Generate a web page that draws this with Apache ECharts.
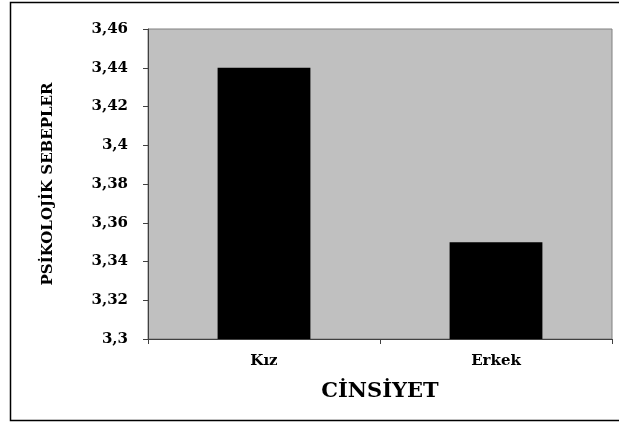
<!DOCTYPE html>
<html>
<head>
<meta charset="utf-8">
<script src="https://cdn.jsdelivr.net/npm/echarts@6/dist/echarts.min.js"></script>
<style>html,body{margin:0;padding:0;background:#fff;}#c{width:619px;height:423px;}</style>
</head>
<body>
<div id="c"></div>
<script>
var categories = ['Kız', 'Erkek'];
var values = [3.44, 3.35];
var yTickLabels = ['3,3', '3,32', '3,34', '3,36', '3,38', '3,4', '3,42', '3,44', '3,46'];
var xTitle = 'CİNSİYET';
var yTitle = 'PSİKOLOJİK SEBEPLER';

var font = 'DejaVu Serif';
var chart = echarts.init(document.getElementById('c'));
chart.setOption({
  animation: false,
  backgroundColor: '#fff',
  graphic: [{
    type: 'rect', shape: {x: 10.5, y: 2.5, width: 640, height: 418},
    style: {fill: 'none', stroke: '#000', lineWidth: 1.5}, z: -1
  }],
  grid: {
    left: 148, right: 7, top: 29, bottom: 84,
    show: true, backgroundColor: '#c0c0c0', borderColor: '#808080', borderWidth: 1
  },
  xAxis: {
    type: 'category', data: categories,
    axisLine: {lineStyle: {color: '#404040', width: 1}},
    axisTick: {show: true, length: 5, lineStyle: {color: '#404040'}},
    axisLabel: {fontFamily: font, fontWeight: 'bold', fontSize: 15, color: '#000', margin: 15},
    name: xTitle, nameLocation: 'middle', nameGap: 42,
    nameTextStyle: {fontFamily: font, fontWeight: 'bold', fontSize: 21, color: '#000'}
  },
  yAxis: {
    type: 'value', min: 3.3, max: 3.46, interval: 0.02,
    splitLine: {show: false},
    axisLine: {show: true, lineStyle: {color: '#404040', width: 1}},
    axisTick: {show: true, length: 5, lineStyle: {color: '#404040'}},
    axisLabel: {
      fontFamily: font, fontWeight: 'bold', fontSize: 15, color: '#000', margin: 20,
      formatter: function (v) {
        var i = Math.round((v - 3.3) / 0.02);
        return yTickLabels[i] !== undefined ? yTickLabels[i] : '';
      }
    },
    name: yTitle, nameLocation: 'middle', nameGap: 92, nameRotate: 90,
    nameTextStyle: {fontFamily: font, fontWeight: 'bold', fontSize: 15, color: '#000'}
  },
  series: [{
    type: 'bar', data: values, barWidth: '40%',
    itemStyle: {color: '#000'}
  }]
});
</script>
</body>
</html>
